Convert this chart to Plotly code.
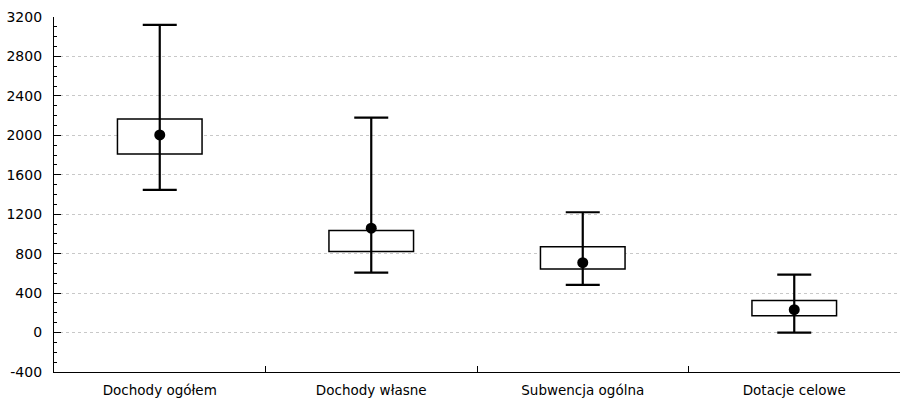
import plotly.graph_objects as go

# Revenue categories (Polish municipal budgets)
categories = ["Dochody ogółem", "Dochody własne", "Subwencja ogólna", "Dotacje celowe"]

# Mean value per category
means = [2004, 1058, 709, 232]
# Box edges
box_low = [1811, 821, 645, 171]
box_high = [2166, 1034, 871, 324]
# Whisker ends
whisker_low = [1446, 608, 483, 0]
whisker_high = [3120, 2180, 1220, 587]

y_ticks = [-400, 0, 400, 800, 1200, 1600, 2000, 2400, 2800, 3200]

font_family = "DejaVu Sans, Verdana, sans-serif"

fig = go.Figure()

# Boxes as floating bars
fig.add_trace(go.Bar(
    x=categories,
    y=[h - l for h, l in zip(box_high, box_low)],
    base=box_low,
    width=0.4,
    marker=dict(color="white", line=dict(color="black", width=1.5)),
    showlegend=False,
    hoverinfo="skip",
))

# Whiskers with caps, and the mean dot
fig.add_trace(go.Scatter(
    x=categories,
    y=means,
    mode="markers",
    marker=dict(color="black", size=11),
    error_y=dict(
        type="data",
        symmetric=False,
        array=[h - m for h, m in zip(whisker_high, means)],
        arrayminus=[m - l for m, l in zip(means, whisker_low)],
        color="black",
        thickness=2.2,
        width=17,
    ),
    showlegend=False,
))

fig.update_layout(
    width=900,
    height=399,
    margin=dict(l=54, r=0, t=17, b=27),
    paper_bgcolor="white",
    plot_bgcolor="white",
    font=dict(family=font_family, size=13, color="black"),
    bargap=0.6,
)

fig.update_xaxes(
    type="category",
    showline=True,
    linecolor="black",
    linewidth=1.2,
    ticks="inside",
    tickson="boundaries",
    ticklen=6,
    tickcolor="black",
    showgrid=False,
    tickfont=dict(size=13.5),
    ticklabelstandoff=6,
)

fig.update_yaxes(
    range=[-400, 3200],
    tickvals=y_ticks,
    ticktext=[str(v) for v in y_ticks],
    showline=True,
    linecolor="black",
    linewidth=1.2,
    ticks="inside",
    ticklen=7,
    tickcolor="black",
    minor=dict(dtick=100, ticks="inside", ticklen=3, tickcolor="black", showgrid=False),
    showgrid=True,
    gridcolor="#c8c8c8",
    griddash="dot",
    gridwidth=1,
    zeroline=False,
    tickfont=dict(size=14),
    ticklabelstandoff=8,
)

fig.write_html("out.html")
